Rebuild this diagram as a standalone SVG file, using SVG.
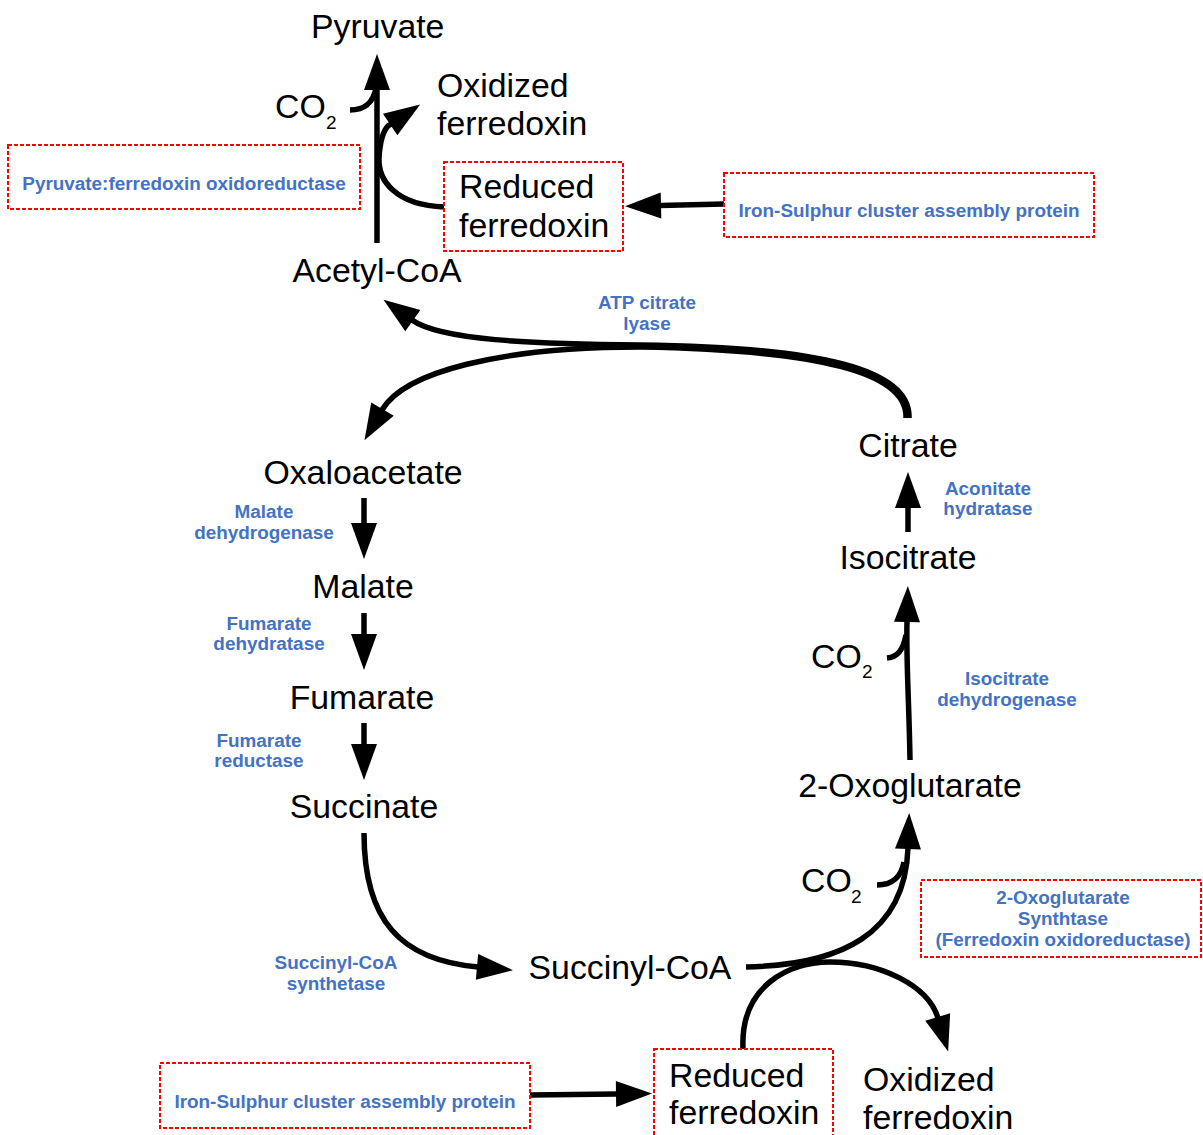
<svg xmlns="http://www.w3.org/2000/svg" width="1203" height="1135" viewBox="0 0 1203 1135">
<style>
.lbl{font-family:"Liberation Sans",Arial,sans-serif;font-size:33.8px;fill:#000}
.mid{text-anchor:middle}
.sub{font-size:19px}
.enz{font-family:"Liberation Sans",Arial,sans-serif;font-weight:bold;font-size:18.9px;fill:#4472C4;text-anchor:middle}
.box{fill:none;stroke:#FF0000;stroke-width:2;stroke-dasharray:4 2}
.c{fill:none;stroke:#000;stroke-width:5.5}
.a{marker-end:url(#ah)}
</style>
<defs>
<marker id="ah" markerUnits="userSpaceOnUse" markerWidth="37" markerHeight="26" refX="1" refY="13" orient="auto" overflow="visible">
<path d="M0,0 L36,13 L0,26 Z" fill="#000"/>
</marker>
</defs>
<rect width="1203" height="1135" fill="#fff"/>

<g id="connectors">
<path class="c a" d="M377 243 L377 89"/>
<path class="c" d="M350 110 C365 110 373 103 376 88"/>
<path class="c a" d="M444 207 C395 205 378 180 379 158 C380 142 383 131 388 126 L391 124"/>
<path class="c a" d="M724 204 L660 205.5"/>
<path class="c a" d="M909 418 C911 369 820 347 640 345 C530 344 440 340 412 320"/>
<path class="c a" d="M906 418 C908 372 818 350 640 347 C500 347 404 372 382 410"/>
<path class="c a" d="M364 498 L364 524"/>
<path class="c a" d="M364 613 L364 635"/>
<path class="c a" d="M364 723 L364 745"/>
<path class="c a" d="M364 833 C364 920 400 960 478 967"/>
<path class="c a" d="M746 967 C840 965 905 935 908 848"/>
<path class="c" d="M877 885 C893 885 901 877 904 862"/>
<path class="c a" d="M743 1049 C740 985 790 962 830 962 C880 962 928 985 938 1018"/>
<path class="c a" d="M530 1095 L617 1094"/>
<path class="c a" d="M910 760 C909 700 906 660 907 621"/>
<path class="c" d="M887 658 C898 657 903 650 906 635"/>
<path class="c a" d="M908 532 L908 507"/>
</g>

<g id="pyruvate"><text class="lbl" x="311" y="38">Pyruvate</text></g>
<g id="co2-top"><text class="lbl" x="275" y="118">CO</text><text class="lbl sub" x="326" y="129">2</text></g>
<g id="oxidized-ferredoxin-top"><text class="lbl" x="437" y="97">Oxidized</text><text class="lbl" x="437" y="135">ferredoxin</text></g>
<g id="reduced-ferredoxin-top"><rect class="box" x="444" y="162" width="179" height="89"/><text class="lbl" x="459" y="198">Reduced</text><text class="lbl" x="459" y="237">ferredoxin</text></g>
<g id="pfor"><rect class="box" x="8" y="145" width="352" height="64"/><text class="enz" x="184" y="190">Pyruvate:ferredoxin oxidoreductase</text></g>
<g id="fes-top"><rect class="box" x="724" y="173" width="370" height="64"/><text class="enz" x="909" y="217">Iron-Sulphur cluster assembly protein</text></g>
<g id="acetyl-coa"><text class="lbl mid" x="377" y="282">Acetyl-CoA</text></g>
<g id="atp-citrate-lyase"><text class="enz" x="647" y="309">ATP citrate</text><text class="enz" x="647" y="330">lyase</text></g>
<g id="citrate"><text class="lbl mid" x="908" y="457">Citrate</text></g>
<g id="aconitate-hydratase"><text class="enz" x="988" y="495">Aconitate</text><text class="enz" x="988" y="515">hydratase</text></g>
<g id="isocitrate"><text class="lbl mid" x="908" y="569">Isocitrate</text></g>
<g id="co2-mid"><text class="lbl" x="811" y="668">CO</text><text class="lbl sub" x="862" y="678">2</text></g>
<g id="isocitrate-dehydrogenase"><text class="enz" x="1007" y="685">Isocitrate</text><text class="enz" x="1007" y="706">dehydrogenase</text></g>
<g id="oxoglutarate"><text class="lbl mid" x="910" y="797">2-Oxoglutarate</text></g>
<g id="co2-bottom"><text class="lbl" x="801" y="892">CO</text><text class="lbl sub" x="851" y="903">2</text></g>
<g id="ogor"><rect class="box" x="921" y="880" width="280" height="77"/><text class="enz" x="1063" y="904">2-Oxoglutarate</text><text class="enz" x="1063" y="925">Synthtase</text><text class="enz" x="1063" y="946">(Ferredoxin oxidoreductase)</text></g>
<g id="oxaloacetate"><text class="lbl mid" x="363" y="484">Oxaloacetate</text></g>
<g id="malate-dehydrogenase"><text class="enz" x="264" y="518">Malate</text><text class="enz" x="264" y="539">dehydrogenase</text></g>
<g id="malate"><text class="lbl mid" x="363" y="598">Malate</text></g>
<g id="fumarate-dehydratase"><text class="enz" x="269" y="630">Fumarate</text><text class="enz" x="269" y="650">dehydratase</text></g>
<g id="fumarate"><text class="lbl mid" x="362" y="709">Fumarate</text></g>
<g id="fumarate-reductase"><text class="enz" x="259" y="747">Fumarate</text><text class="enz" x="259" y="767">reductase</text></g>
<g id="succinate"><text class="lbl mid" x="364" y="818">Succinate</text></g>
<g id="succinyl-coa-synthetase"><text class="enz" x="336" y="969">Succinyl-CoA</text><text class="enz" x="336" y="990">synthetase</text></g>
<g id="succinyl-coa"><text class="lbl mid" x="630" y="979">Succinyl-CoA</text></g>
<g id="fes-bottom"><rect class="box" x="160" y="1063" width="370" height="65"/><text class="enz" x="345" y="1108">Iron-Sulphur cluster assembly protein</text></g>
<g id="reduced-ferredoxin-bottom"><rect class="box" x="654" y="1049" width="179" height="95"/><text class="lbl" x="669" y="1087">Reduced</text><text class="lbl" x="669" y="1124">ferredoxin</text></g>
<g id="oxidized-ferredoxin-bottom"><text class="lbl" x="863" y="1091">Oxidized</text><text class="lbl" x="863" y="1129">ferredoxin</text></g>
</svg>
